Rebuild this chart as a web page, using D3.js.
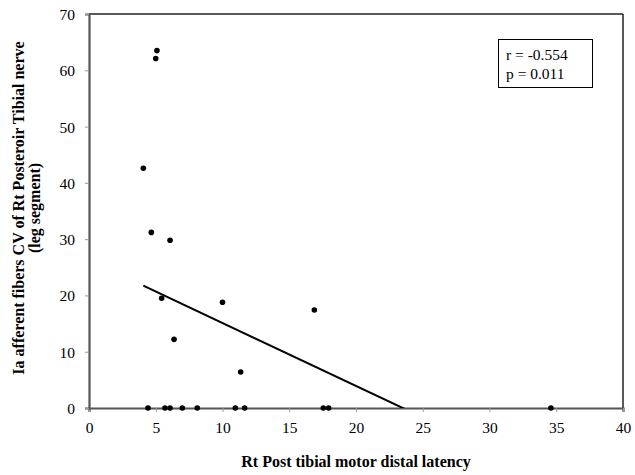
<!DOCTYPE html>
<html><head><meta charset="utf-8">
<script src="https://cdn.jsdelivr.net/npm/d3@7"></script>
<style>body{margin:0;background:#fff}svg{display:block}text{font-family:"Liberation Serif","Times New Roman",serif}</style>
</head><body><svg id="c" width="635" height="475"></svg>
<script>
const xValues = [5.09, 5.0, 4.07, 4.67, 6.07, 5.44, 10.0, 6.37, 11.36, 16.88,
                 4.42, 5.69, 6.07, 6.99, 8.11, 10.96, 11.66, 17.55, 17.95, 34.6];
const yValues = [63.5, 62.1, 42.6, 31.2, 29.8, 19.5, 18.8, 12.2, 6.4, 17.4,
                 0, 0, 0, 0, 0, 0, 0, 0, 0, 0];
const xTicks = [0, 5, 10, 15, 20, 25, 30, 35, 40];
const yTicks = [0, 10, 20, 30, 40, 50, 60, 70];
const trendCoef = [26.28, -1.118]; // intercept, slope
const statsText = ["r = -0.554", "p = 0.011"];
const xTitle = "Rt Post tibial motor distal latency";
const yTitleLines = ["Ia afferent fibers CV of Rt Posteroir Tibial nerve", "(leg segment)"];

const svg = d3.select("#c");
const L = 89, R = 623, T = 14, B = 408;
const x = d3.scaleLinear().domain([0, 40]).range([L, R]);
const y = d3.scaleLinear().domain([0, 70]).range([B, T]);

// frame top/right
svg.append("line").attr("x1", L).attr("x2", R).attr("y1", T).attr("y2", T).attr("stroke", "#222").attr("stroke-width", 1.5);
svg.append("line").attr("x1", R).attr("x2", R).attr("y1", T).attr("y2", B).attr("stroke", "#222").attr("stroke-width", 1.5);

const xa = svg.append("g").attr("transform", `translate(0,${B})`)
  .call(d3.axisBottom(x).tickValues(xTicks).tickSize(4).tickPadding(10).tickFormat(d3.format("d")));
const ya = svg.append("g").attr("transform", `translate(${L},0)`)
  .call(d3.axisLeft(y).tickValues(yTicks).tickSize(4).tickPadding(10).tickFormat(d3.format("d")));
[xa, ya].forEach(g => {
  g.select(".domain").attr("stroke", "#555").attr("stroke-width", 2.2);
  g.selectAll(".tick line").attr("stroke", "#999");
  g.selectAll("text").attr("font-size", 15.5).attr("fill", "#000").style("font-family", "'Liberation Serif',serif");
});
ya.selectAll("text").attr("dy", "0.35em");

// trend line, clipped
svg.append("clipPath").attr("id", "cp").append("rect").attr("x", L).attr("y", T).attr("width", R - L).attr("height", B - T);
const xmin = d3.min(xValues), xmax = d3.max(xValues);
svg.append("line").attr("clip-path", "url(#cp)")
  .attr("x1", x(xmin)).attr("y1", y(trendCoef[0] + trendCoef[1] * xmin))
  .attr("x2", x(xmax)).attr("y2", y(trendCoef[0] + trendCoef[1] * xmax))
  .attr("stroke", "#000").attr("stroke-width", 2);

svg.append("g").selectAll("circle").data(xValues.map((v, i) => [v, yValues[i]])).join("circle")
  .attr("cx", d => x(d[0])).attr("cy", d => y(d[1])).attr("r", 2.8).attr("fill", "#000");

// stats box
svg.append("rect").attr("x", 498.5).attr("y", 39.5).attr("width", 94).attr("height", 48)
  .attr("fill", "#fff").attr("stroke", "#000").attr("stroke-width", 1);
svg.append("g").selectAll("text").data(statsText).join("text")
  .attr("x", 506).attr("y", (d, i) => 60 + i * 18.5).attr("font-size", 15.5).text(d => d);

svg.append("text").attr("x", 356).attr("y", 467).attr("text-anchor", "middle")
  .attr("font-size", 16).attr("font-weight", "bold").text(xTitle);
svg.append("g").attr("transform", `translate(0,208) rotate(-90)`)
  .selectAll("text").data(yTitleLines).join("text")
  .attr("x", 0).attr("y", (d, i) => 24 + i * 16).attr("text-anchor", "middle")
  .attr("font-size", 16).attr("font-weight", "bold").text(d => d);
</script></body></html>
